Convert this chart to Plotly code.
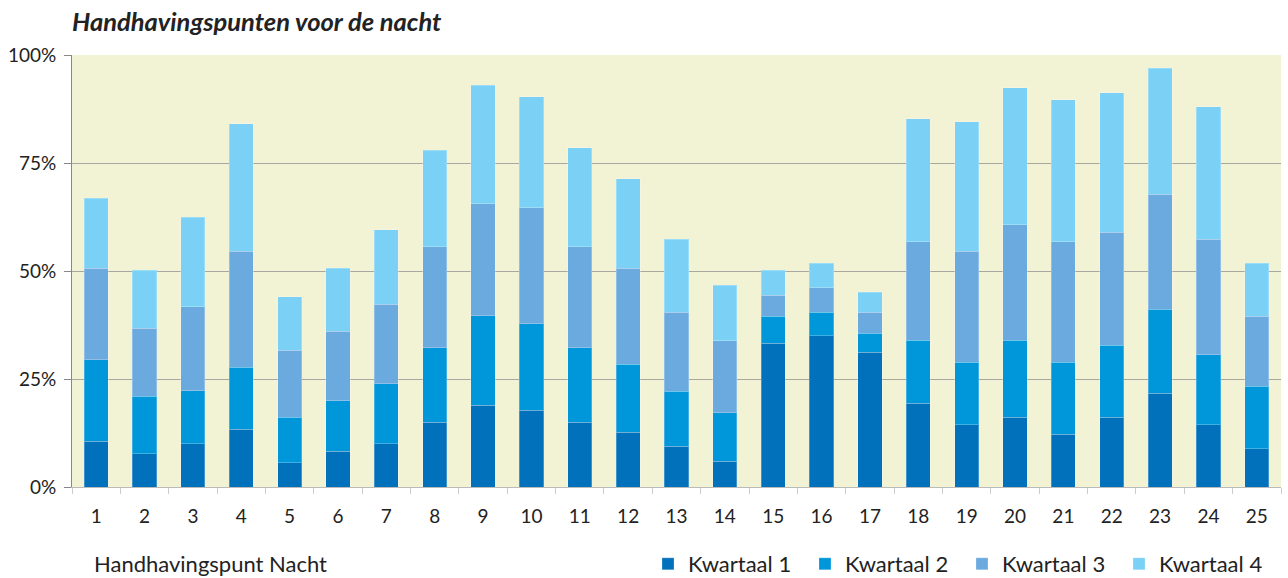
import plotly.graph_objects as go

categories = [str(i) for i in range(1, 26)]
kwartaal1 = [10.6, 7.7, 10.0, 13.4, 5.6, 8.3, 10.0, 15.0, 18.9, 17.8, 15.0, 12.7, 9.4, 6.0, 33.3, 35.0, 31.2, 19.4, 14.4, 16.2, 12.2, 16.2, 21.7, 14.4, 8.8]
kwartaal2 = [18.8, 13.3, 12.3, 14.3, 10.6, 11.7, 13.9, 17.2, 20.7, 20.0, 17.2, 15.7, 12.8, 11.2, 6.2, 5.5, 4.4, 14.6, 14.5, 17.8, 16.7, 16.6, 19.5, 16.2, 14.5]
kwartaal3 = [21.2, 15.7, 19.4, 26.9, 15.5, 16.1, 18.4, 23.4, 26.0, 26.8, 23.4, 22.2, 18.3, 16.7, 4.9, 5.6, 4.9, 22.8, 25.7, 26.7, 27.9, 26.2, 26.6, 26.7, 16.2]
kwartaal4 = [16.2, 13.5, 20.7, 29.5, 12.3, 14.5, 17.3, 22.4, 27.4, 25.7, 22.9, 20.7, 16.8, 12.8, 5.8, 5.7, 4.6, 28.4, 30.0, 31.7, 32.8, 32.3, 29.1, 30.7, 12.3]

series = [
    ("Kwartaal 1", kwartaal1, "#0071BA"),
    ("Kwartaal 2", kwartaal2, "#0096DA"),
    ("Kwartaal 3", kwartaal3, "#6AAADE"),
    ("Kwartaal 4", kwartaal4, "#7AD0F5"),
]
y_ticks = [0, 25, 50, 75, 100]
y_tick_labels = ["0%", "25%", "50%", "75%", "100%"]

FONT = "Lato, 'Open Sans', sans-serif"
W, H = 1288, 578
L, R, T, B = 72, 7, 55, 91

fig = go.Figure()
for name, vals, color in series:
    fig.add_trace(go.Bar(
        x=categories, y=vals, name=name,
        marker=dict(color=color, line=dict(color="rgba(255,255,255,0.25)", width=1)),
        width=0.5,
    ))

fig.update_layout(
    barmode="stack",
    width=W, height=H,
    autosize=False,
    margin=dict(l=L, r=R, t=T, b=B, autoexpand=False),
    paper_bgcolor="white",
    plot_bgcolor="#F2F2D4",
    font=dict(family=FONT, color="#222222", size=19),
    showlegend=True,
    legend=dict(
        orientation="h", xref="container", yref="container",
        x=648 / W, xanchor="left", y=1 - 564 / H, yanchor="middle",
        font=dict(size=22, family=FONT, color="#222222"),
        itemwidth=30, traceorder="normal", entrywidth=112, entrywidthmode="pixels",
        bgcolor="rgba(0,0,0,0)",
    ),
    title=dict(
        text="<b><i>Handhavingspunten voor de nacht</i></b>",
        xref="container", yref="container",
        x=72 / W, xanchor="left", y=1 - 22 / H, yanchor="middle",
        font=dict(size=25.5, family=FONT, color="#222222"),
    ),
    annotations=[dict(
        text="Handhavingspunt Nacht", xref="paper", yref="paper",
        x=(92 - L) / (W - L - R), xanchor="left",
        y=-(563 - (H - B)) / (H - T - B), yanchor="middle", showarrow=False,
        font=dict(size=22, family=FONT, color="#222222"),
    )],
)

fig.update_yaxes(
    range=[0, 100], tickvals=y_ticks, ticktext=y_tick_labels,
    showgrid=True, gridcolor="#A8A8A0", gridwidth=1,
    showline=True, linecolor="#888888", linewidth=1,
    ticks="outside", ticklen=7, tickcolor="#888888",
    zeroline=False, tickfont=dict(size=19), fixedrange=True,
    ticklabelstandoff=4,
)
fig.update_xaxes(
    type="category", showgrid=False,
    showline=True, linecolor="#BBBBBB", linewidth=1,
    ticks="outside", tickson="boundaries", ticklen=6, tickcolor="#CCCCCC",
    tickfont=dict(size=19), fixedrange=True, ticklabelstandoff=12,
)

fig.write_html("out.html", config={"displayModeBar": False},
               post_script="document.body.style.margin='0';")
